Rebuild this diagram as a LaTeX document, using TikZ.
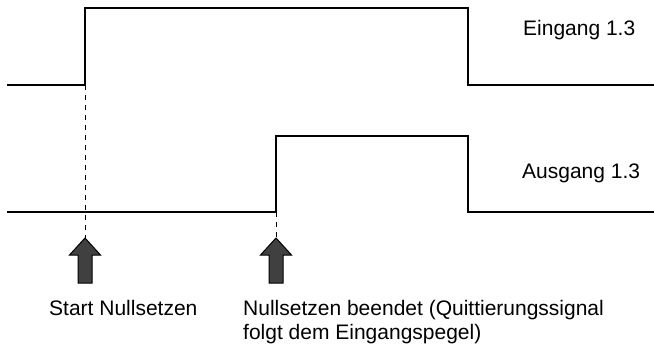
\documentclass[tikz,border=0pt]{standalone}
\usepackage{fontspec}
\setmainfont{Liberation Sans}
\usetikzlibrary{positioning}

\begin{document}
\begin{tikzpicture}[
    x=1pt, y=-1pt,
    signal/.style={line width=2.6pt, line join=miter},
    marker/.style={line width=1pt, dash pattern=on 5pt off 5pt},
    sigtext/.style={inner sep=0pt, font=\fontsize{21}{24}\selectfont, align=left},
    blockarrow/.pic={
        \draw[line width=1pt, fill=black!75, line join=miter]
            (0,0) -- (15.5,17) -- (7,17) -- (7,45) -- (-7,45) -- (-7,17) -- (-15.5,17) -- cycle;
    }
    ]
        \useasboundingbox (0,0) rectangle (654,348);

        %Coordinates
        \coordinate (in0) at (7,85);
        \coordinate (in1) at (85,85);
        \coordinate (in2) at (85,8);
        \coordinate (in3) at (468,8);
        \coordinate (in4) at (468,85);
        \coordinate (in5) at (654,85);
        \coordinate (out0) at (7,212);
        \coordinate (out1) at (276,212);
        \coordinate (out2) at (276,136);
        \coordinate (out3) at (468,136);
        \coordinate (out4) at (468,212);
        \coordinate (out5) at (654,212);
        \coordinate (tipStart) at (85,238);
        \coordinate (tipEnd) at (276,238);

        %Nodes
        \node[sigtext, anchor=base west] (lblIn)  at (523,35)  {Eingang 1.3};
        \node[sigtext, anchor=base west] (lblOut) at (522,178) {Ausgang 1.3};
        \node[sigtext, anchor=base west] (lblStart) at (49,315) {Start Nullsetzen};
        \node[sigtext, anchor=base west] (lblEnd) at (243,339)
            {Nullsetzen beendet (Quittierungssignal\\folgt dem Eingangspegel)};

        %Lines
        \draw[signal] (in0) -- (in1) -- (in2) -- (in3) -- (in4) -- (in5);
        \draw[signal] (out0) -- (out1) -- (out2) -- (out3) -- (out4) -- (out5);
        \draw[marker] (in1) -- (tipStart);
        \draw[marker] (out1) -- (tipEnd);

        %Arrows
        \pic at (tipStart) {blockarrow};
        \pic at (tipEnd) {blockarrow};
    \end{tikzpicture}
\end{document}
